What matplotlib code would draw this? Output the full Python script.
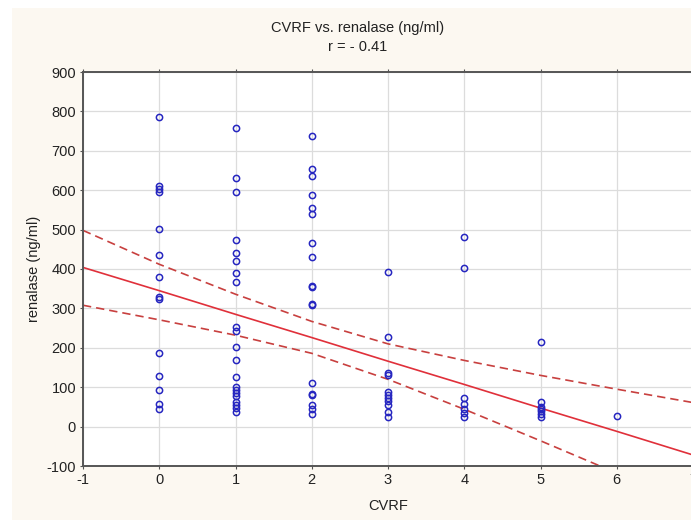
import numpy as np
import matplotlib
matplotlib.use("Agg")
import matplotlib.pyplot as plt
from matplotlib.patches import Rectangle

plt.rcParams["font.family"] = ["Liberation Sans", "DejaVu Sans"]
plt.rcParams["axes.unicode_minus"] = False

# ── data (renalase ng/ml per CVRF count) ──────────────────────────────────
cvrf_0 = [787, 610, 603, 595, 501, 435, 379, 330, 325, 186, 128, 93, 57, 44]
cvrf_1 = [757, 630, 596, 474, 441, 421, 391, 368, 254, 243, 201, 169, 125,
          101, 93, 85, 78, 63, 55, 46, 38]
cvrf_2 = [738, 655, 637, 588, 554, 540, 467, 431, 357, 354, 311, 308,
          110, 82, 79, 55, 44, 32]
cvrf_3 = [393, 228, 135, 131, 89, 80, 72, 65, 55, 38, 25]
cvrf_4 = [480, 403, 72, 57, 44, 34, 24]
cvrf_5 = [214, 62, 51, 45, 40, 32, 25]
cvrf_6 = [27]

# regression line and 95% band as drawn in the reference (at x = -1..7)
fit_x = [-1, 0, 1, 2, 3, 4, 5, 6, 7]
fit_y = [404, 345, 285, 226, 166, 107, 47, -12, -72]
band_upper = [498, 412, 336, 267, 210, 168, 130, 95, 61]
band_lower = [308, 271, 232, 186, 120, 44, -36, -118, -204]
r_text = "r = - 0.41"

groups = [cvrf_0, cvrf_1, cvrf_2, cvrf_3, cvrf_4, cvrf_5, cvrf_6]
x = np.concatenate([[i] * len(g) for i, g in enumerate(groups)]).astype(float)
y = np.concatenate(groups).astype(float)

# ── figure ────────────────────────────────────────────────────────────────
TXT = "#222222"
FS = 10.5

fig = plt.figure(figsize=(6.91, 5.2), dpi=100, facecolor="white")
fig.patches.append(Rectangle((12 / 691, 0), 1, 1 - 8 / 520,
                             transform=fig.transFigure, facecolor="#FCF8F1",
                             edgecolor="none", zorder=-10))

ax = fig.add_axes([83 / 691, 1 - 466 / 520, 610 / 691, 394 / 520])
ax.set_facecolor("white")

ax.plot(x, y, "o", mfc="none", mec="#2626C0", ms=4.5, mew=1.1, zorder=3)
ax.plot(fit_x, fit_y, color="#E0303A", lw=1.2, zorder=2)
ax.plot(fit_x, band_upper, color="#C8403F", lw=1.2, ls=(0, (5, 3)), zorder=2)
ax.plot(fit_x, band_lower, color="#C8403F", lw=1.2, ls=(0, (5, 3)), zorder=2)

ax.set_xlim(-1, 7)
ax.set_ylim(-100, 900)
ax.set_xticks(range(-1, 8))
ax.set_yticks(range(-100, 901, 100))
ax.grid(True, color="#DCDCDC", lw=0.9)
ax.set_axisbelow(True)
for sp in ax.spines.values():
    sp.set_color("#555555")
    sp.set_linewidth(1.4)
ax.tick_params(direction="out", length=2, width=0.8, color="#555555",
               labelsize=FS, labelcolor=TXT, pad=3,
               right=True, top=True)

ax.set_xlabel("CVRF", fontsize=FS, color=TXT, labelpad=9)
ax.set_ylabel("renalase (ng/ml)", fontsize=FS, color=TXT, labelpad=4)

fig.text(358 / 691, 1 - 28 / 520, "CVRF vs. renalase (ng/ml)",
         ha="center", va="center", fontsize=FS, color=TXT)
fig.text(358 / 691, 1 - 47 / 520, r_text,
         ha="center", va="center", fontsize=FS, color=TXT)

fig.savefig("out.png", dpi=100, facecolor="white")
